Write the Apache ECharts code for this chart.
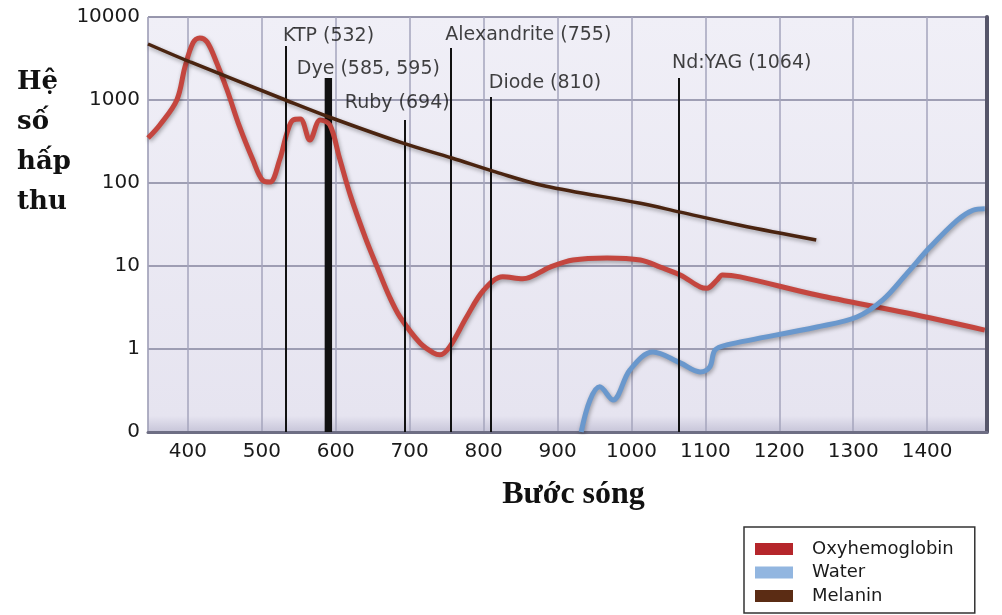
<!DOCTYPE html>
<html>
<head>
<meta charset="utf-8">
<script src="https://cdn.jsdelivr.net/npm/echarts@6/dist/echarts.min.js"></script>
<style>html,body{margin:0;padding:0;background:#fff;}#c{width:1002px;height:615px;}</style>
</head>
<body>
<div id="c"></div>
<script>
// ---- data ----
var oxyNm  = [346, 362, 385, 396, 407, 416, 426, 439, 453, 470, 488, 501, 511, 524, 534, 542, 552, 565, 579, 592, 605, 620, 640, 656, 673, 687, 714, 732, 741, 754, 777, 800, 826, 853, 890, 921, 967, 1012, 1039, 1066, 1093, 1102, 1116, 1123, 1147, 1251, 1373, 1478];
var oxyVal = [348, 500, 1000, 2500, 4900, 5600, 5000, 2790, 1320, 473, 189, 108, 103, 189, 400, 574, 590, 330, 574, 500, 200, 70, 22, 9.7, 4.2, 2.43, 1.18, 0.9, 0.85, 1.06, 2.43, 5.1, 7.4, 7.0, 9.7, 11.8, 12.5, 11.8, 9.7, 7.8, 5.6, 5.4, 6.8, 7.8, 7.4, 4.47, 2.71, 1.69];

var waterNm  = [932, 944, 957, 975, 998, 1029, 1066, 1093, 1106, 1113, 1129, 1251, 1305, 1340, 1373, 1404, 1441, 1462, 1478];
var waterVal = [0.1, 0.243, 0.35, 0.243, 0.56, 0.92, 0.68, 0.53, 0.61, 0.97, 1.12, 1.84, 2.43, 3.9, 8.2, 16.9, 35.8, 47, 49];

var melNm  = [346, 404, 532, 591, 691, 757, 817, 883, 1012, 1066, 1147, 1250];
var melVal = [4730, 2850, 1000, 624, 302, 200, 135, 92, 57, 44.6, 31, 20.6];

var laserNames = ['KTP (532)', 'Ruby (694)', 'Alexandrite (755)', 'Diode (810)', 'Nd:YAG (1064)'];
var laserNm    = [532, 694, 755, 810, 1064];
var laserTop   = [4470, 574, 4230, 1090, 1840];

var dyeName = 'Dye (585, 595)';
var dyeRange = [585, 595];
var dyeTop = 1840;

var seriesNames = ['Oxyhemoglobin', 'Water', 'Melanin'];
var xTicks = [400, 500, 600, 700, 800, 900, 1000, 1100, 1200, 1300, 1400];

// ---- styling (positions of annotation labels relative to their lines) ----
var laserLabelOffset = [[43, 5], [-8, -2], [78, 2], [54, 1], [63, 0]];
var dyeLabelOffset = [40, 6];

function pairs(xs, ys) { return xs.map(function (x, i) { return [x, ys[i]]; }); }

var shadow = { shadowColor: 'rgba(0,0,0,0.35)', shadowBlur: 4, shadowOffsetY: 2, shadowOffsetX: 1 };

var laserLines = laserNm.map(function (nm, i) {
  return [{ coord: [nm, laserTop[i]] }, { coord: [nm, 0.1] }];
});
var laserLabels = laserNm.map(function (nm, i) {
  return { name: laserNames[i], value: [nm, laserTop[i]], label: { offset: laserLabelOffset[i] } };
});
laserLabels.push({ name: dyeName, value: [(dyeRange[0] + dyeRange[1]) / 2, dyeTop], label: { offset: dyeLabelOffset } });

var chart = echarts.init(document.getElementById('c'), null, { renderer: 'canvas' });
chart.setOption({
  animation: false,
  backgroundColor: '#ffffff',
  title: {
    text: 'Hệ\nsố\nhấp\nthu',
    left: 12, top: 57,
    textStyle: { fontFamily: 'DejaVu Serif', fontWeight: 'bold', fontSize: 26, lineHeight: 40, color: '#111' }
  },
  grid: {
    left: 148, right: 15, top: 17, bottom: 183,
    show: true,
    borderColor: '#a2a2b6', borderWidth: 1,
    backgroundColor: { type: 'linear', x: 0, y: 0, x2: 0, y2: 1,
      colorStops: [{ offset: 0, color: '#f0eff7' }, { offset: 0.96, color: '#e6e4f0' }, { offset: 1, color: '#c6c4d8' }] }
  },
  legend: {
    orient: 'vertical',
    left: 744, top: 527,
    data: seriesNames,
    icon: 'rect',
    itemWidth: 38, itemHeight: 12, itemGap: 5.5,
    padding: [13, 21, 8, 11],
    borderColor: '#333', borderWidth: 1.5,
    backgroundColor: '#fff',
    textStyle: { fontFamily: 'DejaVu Sans', fontSize: 18, lineHeight: 18, color: '#1a1a1a', padding: [0, 0, 0, 14] }
  },
  xAxis: {
    type: 'value', min: 346, max: 1481, splitNumber: 11,
    name: 'Bước sóng', nameLocation: 'middle', nameGap: 47,
    nameTextStyle: { fontFamily: 'Liberation Serif', fontWeight: 'bold', fontSize: 32, color: '#111', padding: [0, 0, 0, 12] },
    axisLine: { show: true, lineStyle: { color: '#6e6e84', width: 3 } },
    axisTick: { show: false },
    axisLabel: { showMinLabel: false, showMaxLabel: false, margin: 10,
      fontFamily: 'DejaVu Sans', fontSize: 20, color: '#1a1a1a',
      formatter: function (v) { return xTicks.indexOf(v) >= 0 ? String(v) : ''; } },
    splitLine: { show: true, lineStyle: { color: '#a4a4bc', width: 1.5 } }
  },
  yAxis: [{
    type: 'log', logBase: 10, min: 0.1, max: 10000,
    axisLine: { show: false }, axisTick: { show: false },
    axisLabel: { margin: 8, fontFamily: 'DejaVu Sans', fontSize: 20, color: '#1a1a1a',
      formatter: function (v) { return v < 1 ? '0' : String(Math.round(v)); } },
    splitLine: { show: true, lineStyle: { color: '#85859e', width: 1.5 } }
  }, {
    type: 'log', logBase: 10, min: 0.1, max: 10000, position: 'right',
    axisLine: { show: true, lineStyle: { color: '#56566a', width: 4 } },
    axisTick: { show: false }, axisLabel: { show: false }, splitLine: { show: false }
  }],
  series: [
    {
      name: 'lasers', type: 'scatter', symbolSize: 0, silent: true,
      data: laserLabels,
      label: { show: true, position: 'top', distance: 5, formatter: '{b}',
        fontFamily: 'DejaVu Sans', fontSize: 19, color: '#111' },
      markLine: { silent: true, symbol: ['none', 'none'], label: { show: false },
        lineStyle: { color: '#111', width: 2, type: 'solid' }, data: laserLines },
      markArea: { silent: true, itemStyle: { color: '#111' },
        data: [[{ xAxis: dyeRange[0], yAxis: 0.1 }, { xAxis: dyeRange[1], yAxis: dyeTop }]] },
      z: 3
    },
    {
      name: 'Oxyhemoglobin', type: 'line', data: pairs(oxyNm, oxyVal),
      smooth: 0.35, showSymbol: false, symbol: 'none', z: 4,
      itemStyle: { color: '#b5262b' },
      lineStyle: Object.assign({ color: '#c4463f', width: 5 }, shadow)
    },
    {
      name: 'Water', type: 'line', data: pairs(waterNm, waterVal),
      smooth: 0.35, showSymbol: false, symbol: 'none', z: 4,
      itemStyle: { color: '#92b6e0' },
      lineStyle: Object.assign({ color: '#6a98cd', width: 5 }, shadow)
    },
    {
      name: 'Melanin', type: 'line', data: pairs(melNm, melVal),
      smooth: 0.35, showSymbol: false, symbol: 'none', z: 5,
      itemStyle: { color: '#5b2c14' },
      lineStyle: Object.assign({ color: '#4a2410', width: 3.5 }, shadow)
    }
  ]
});
</script>
</body>
</html>
